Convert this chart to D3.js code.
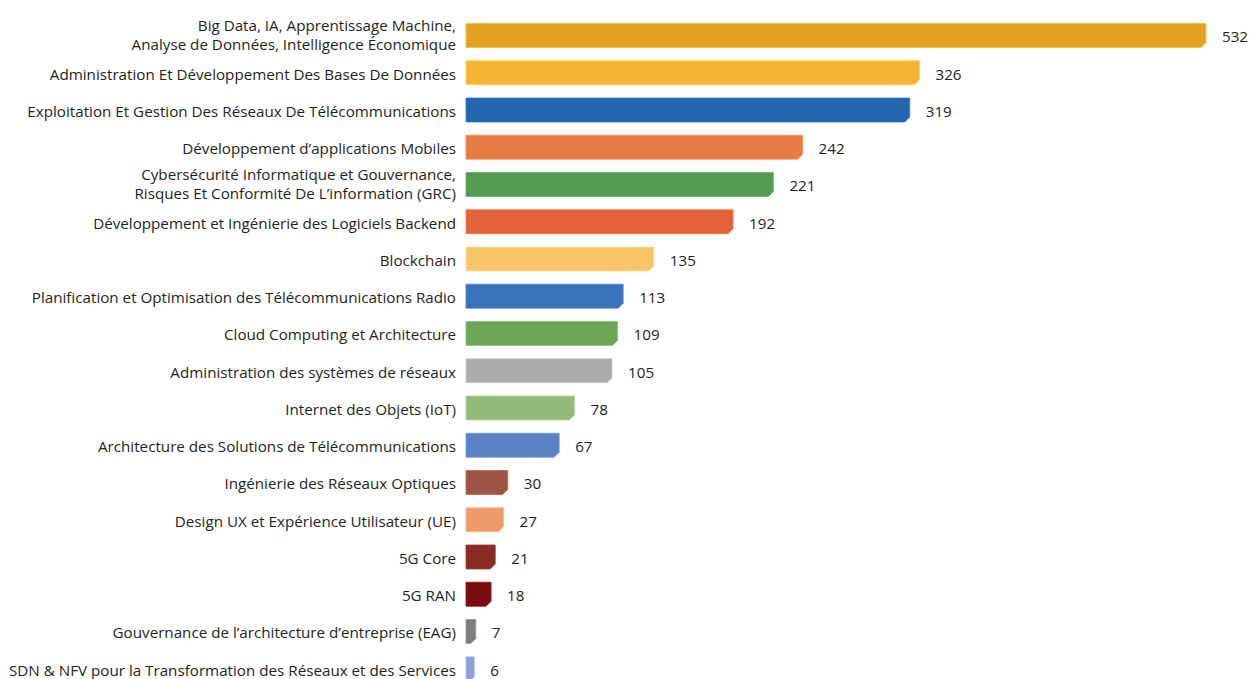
<!DOCTYPE html>
<html>
<head>
<meta charset="utf-8">
<script src="https://cdn.jsdelivr.net/npm/d3@7"></script>
<style>
  html, body { margin: 0; padding: 0; background: #fff; }
  svg { display: block; }
  text { font-family: "Open Sans", "Noto Sans", sans-serif; fill: #231f20; }
</style>
</head>
<body>
<svg id="chart" width="1251" height="679"></svg>
<script>
// Skill areas (lines split with "\n") and their counts
const categories = [
  "Big Data, IA, Apprentissage Machine,\nAnalyse de Données, Intelligence Économique",
  "Administration Et Développement Des Bases De Données",
  "Exploitation Et Gestion Des Réseaux De Télécommunications",
  "Développement d’applications Mobiles",
  "Cybersécurité Informatique et Gouvernance,\nRisques Et Conformité De L’information (GRC)",
  "Développement et Ingénierie des Logiciels Backend",
  "Blockchain",
  "Planification et Optimisation des Télécommunications Radio",
  "Cloud Computing et Architecture",
  "Administration des systèmes de réseaux",
  "Internet des Objets (IoT)",
  "Architecture des Solutions de Télécommunications",
  "Ingénierie des Réseaux Optiques",
  "Design UX et Expérience Utilisateur (UE)",
  "5G Core",
  "5G RAN",
  "Gouvernance de l’architecture d’entreprise (EAG)",
  "SDN & NFV pour la Transformation des Réseaux et des Services"
];
const values = [532, 326, 319, 242, 221, 192, 135, 113, 109, 105, 78, 67, 30, 27, 21, 18, 7, 6];
const colors = [
  "#e2a224", "#f4b334", "#2465b0", "#e57b45", "#519b53", "#e3623a",
  "#f7c46a", "#3b73bb", "#6ea657", "#ababab", "#93ba79", "#5b81c3",
  "#9e5442", "#ee9a6b", "#882b22", "#780a10", "#7b7d7f", "#8c9fd5"
];

const svg = d3.select("#chart");
const x0 = 466;
const fs = 15.2;

const x = d3.scaleLinear().domain([0, 532]).range([x0, 1206]);
const y = d3.scaleBand()
  .domain(d3.range(categories.length))
  .range([16.875, 16.875 + 37.25 * categories.length])
  .paddingInner(0.356)
  .paddingOuter(0.178);

const cut = 5;
function barPath(i) {
  const xa = x(0), xb = x(values[i]);
  const ya = y(i), yb = y(i) + y.bandwidth();
  const c = Math.min(cut, (xb - xa) * 0.5);
  return `M${xa},${ya}H${xb}V${yb - c}L${xb - c},${yb}H${xa}Z`;
}

const rows = svg.selectAll("g.row")
  .data(d3.range(categories.length))
  .join("g")
  .attr("class", "row");

rows.append("path")
  .attr("d", barPath)
  .attr("fill", i => colors[i])
  .attr("stroke", i => d3.color(colors[i]).brighter(0.5))
  .attr("stroke-width", 0.8);

rows.append("text")
  .attr("x", i => x(values[i]) + 16)
  .attr("y", i => y(i) + y.bandwidth() / 2 + 1.5)
  .attr("dy", "0.36em")
  .attr("font-size", fs)
  .text(i => values[i]);

const lh = 19;
rows.append("text")
  .attr("text-anchor", "end")
  .attr("font-size", fs)
  .attr("x", x0 - 10)
  .attr("y", i => y(i) + y.bandwidth() / 2 + 1.5)
  .each(function(i) {
    const lines = categories[i].split("\n");
    const off = -(lines.length - 1) * lh / 2 - (lines.length - 1) * 2;
    d3.select(this).selectAll("tspan")
      .data(lines)
      .join("tspan")
      .attr("x", x0 - 10)
      .attr("dy", (d, k) => k === 0 ? (off / fs + 0.36) + "em" : lh + "px")
      .text(d => d);
  });
</script>
</body>
</html>
